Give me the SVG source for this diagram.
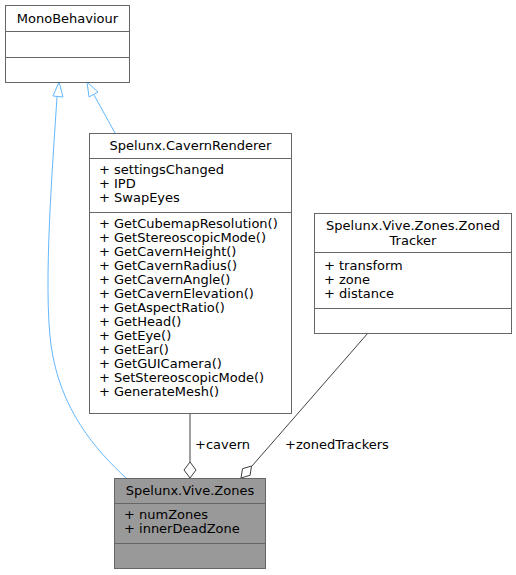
<svg xmlns="http://www.w3.org/2000/svg" width="516" height="575" viewBox="0 0 516 575">
<style>
text{font-family:"DejaVu Sans",sans-serif;font-size:13px;fill:#000}
.box{fill:#fff;stroke:#666;stroke-width:1}
.sep{stroke:#666;stroke-width:1;fill:none}
.c{text-anchor:middle}
.inh{fill:none;stroke:#63b8ff;stroke-width:1}
.agg{fill:none;stroke:#404040;stroke-width:1}
</style>
<rect width="516" height="575" fill="#fff"/>
<g id="connectors">
<path class="inh" d="M126,478 C96,450 60,410 51,345 C43,285 53,160 57,97"/>
<polygon class="inh" points="59,82 53,96 63,97"/>
<path class="inh" d="M115,133 L94,95"/>
<polygon class="inh" points="87,82 89,97 98,92"/>
<path class="agg" d="M190,413 L190,462"/>
<polygon class="agg" style="fill:#fff" points="190,478 184,470 190,462 196,470"/>
<path class="agg" d="M368,333 L252,466"/>
<polygon class="agg" style="fill:#fff" points="241,478 242.5,468.7 251.5,466 250.1,475.3"/>
<text x="195" y="449">+cavern</text>
<text x="285" y="449">+zonedTrackers</text>
</g>
<g id="MonoBehaviour">
<rect class="box" x="5.5" y="5.5" width="124" height="77"/>
<text class="c" x="67.5" y="23">MonoBehaviour</text>
<path class="sep" d="M5.5,31.5H129.5M5.5,57.5H129.5"/>
</g>
<g id="CavernRenderer">
<rect class="box" x="89.5" y="133.5" width="202" height="280"/>
<text class="c" x="190.5" y="150">Spelunx.CavernRenderer</text>
<path class="sep" d="M89.5,158.5H291.5M89.5,212.5H291.5"/>
<text x="99" y="174">+ settingsChanged</text>
<text x="99" y="188">+ IPD</text>
<text x="99" y="202">+ SwapEyes</text>
<text x="99" y="228">+ GetCubemapResolution()</text>
<text x="99" y="242">+ GetStereoscopicMode()</text>
<text x="99" y="256">+ GetCavernHeight()</text>
<text x="99" y="270">+ GetCavernRadius()</text>
<text x="99" y="284">+ GetCavernAngle()</text>
<text x="99" y="298">+ GetCavernElevation()</text>
<text x="99" y="312">+ GetAspectRatio()</text>
<text x="99" y="326">+ GetHead()</text>
<text x="99" y="340">+ GetEye()</text>
<text x="99" y="354">+ GetEar()</text>
<text x="99" y="368">+ GetGUICamera()</text>
<text x="99" y="382">+ SetStereoscopicMode()</text>
<text x="99" y="396">+ GenerateMesh()</text>
</g>
<g id="ZonedTracker">
<rect class="box" x="314.5" y="213.5" width="197" height="120"/>
<text class="c" x="413" y="230">Spelunx.Vive.Zones.Zoned</text>
<text class="c" x="413" y="245">Tracker</text>
<path class="sep" d="M314.5,252.5H511.5M314.5,308.5H511.5"/>
<text x="324" y="270">+ transform</text>
<text x="324" y="284">+ zone</text>
<text x="324" y="298">+ distance</text>
</g>
<g id="Zones">
<rect class="box" style="fill:#999" x="114.5" y="478.5" width="151" height="90"/>
<text class="c" x="190" y="495">Spelunx.Vive.Zones</text>
<path class="sep" d="M114.5,503.5H265.5M114.5,543.5H265.5"/>
<text x="124" y="519">+ numZones</text>
<text x="124" y="533">+ innerDeadZone</text>
</g>
</svg>
